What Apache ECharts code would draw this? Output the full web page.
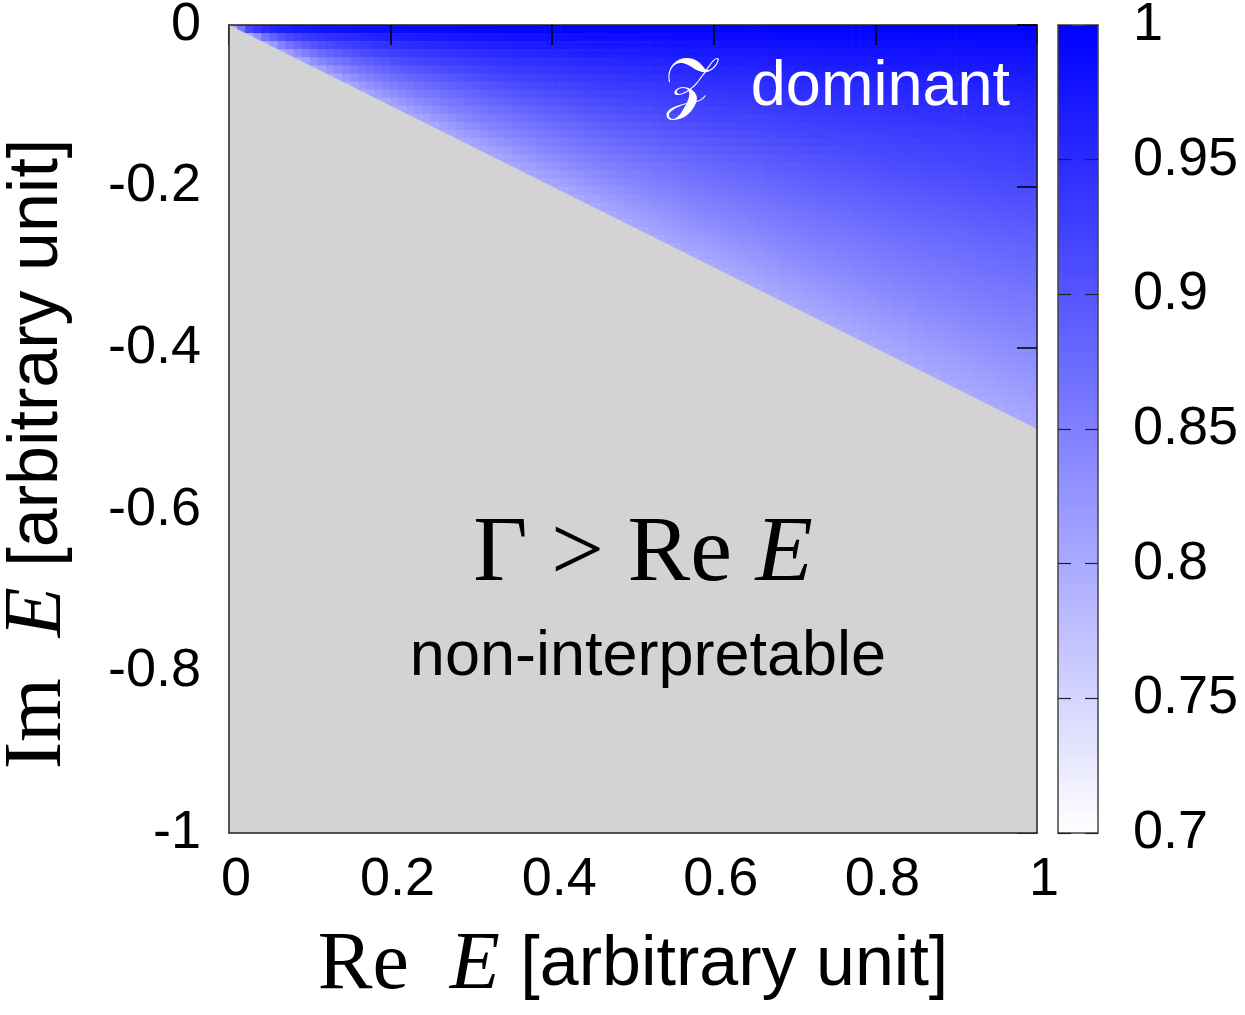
<!DOCTYPE html>
<html lang="en">
<head>
  <meta charset="UTF-8">
  <title>Re E / Im E</title>
  <script src="https://cdn.jsdelivr.net/npm/echarts@6/dist/echarts.min.js"></script>
</head>
<body style="margin:0;background:#fff;">
  <div id="main" style="width:1245px;height:1015px;"></div>
  <script type="text/javascript">
    // boundary Gamma = Re E, i.e. Im E = -Re E / 2
    var boundaryRe = [0, 1];
    var boundaryIm = [0, -0.5];

    var ratioStops  = [0, 0.1, 0.2, 0.3, 0.4, 0.5, 0.6, 0.7, 0.8, 0.9, 1];
    var ratioLevels = [1, 0.975, 0.952, 0.933, 0.915, 0.895, 0.876, 0.858, 0.84, 0.82, 0.8];

    // colour bar range
    var levelMin = 0.7, levelMax = 1, levelStep = 0.05;

    // pm3d cell size
    var dRe = 0.01, dIm = 0.01;

    function levelAt(r) {
      if (r <= 0) return ratioLevels[0];
      for (var i = 1; i < ratioStops.length; i++) {
        if (r <= ratioStops[i]) {
          var t = (r - ratioStops[i - 1]) / (ratioStops[i] - ratioStops[i - 1]);
          return ratioLevels[i - 1] + t * (ratioLevels[i] - ratioLevels[i - 1]);
        }
      }
      return ratioLevels[ratioLevels.length - 1];
    }

    // only cells touching the Gamma < Re E region, the rest is covered grey
    var cells = [];
    for (var i = 0; i < Math.round(1 / dRe); i++) {
      for (var j = 0; j < Math.round(0.5 / dIm) + 1; j++) {
        var top = -j * dIm;
        if (top <= -(i + 1) * dRe / 2 - 1e-9) continue;
        var cx = (i + 0.5) * dRe, cy = -(j + 0.5) * dIm;
        var r = Math.min(1, -2 * cy / cx);
        cells.push([cx, cy, levelAt(r)]);
      }
    }

    var sans = 'Liberation Sans, Helvetica, Arial, sans-serif';
    var serif = 'Liberation Serif, Times New Roman, serif';
    var nameRich = {
      s: { fontFamily: serif, fontSize: 82, color: '#000' },
      i: { fontFamily: serif, fontStyle: 'italic', fontSize: 82, color: '#000' },
      a: { fontFamily: sans, fontSize: 70, color: '#000' }
    };
    var edge = { show: true, onZero: false, lineStyle: { color: '#222', width: 1.5 } };
    var barEdge = { show: true, onZero: false, lineStyle: { color: '#444', width: 1.5 } };
    var noLine = { show: false, onZero: false };
    var barTick = { show: true, inside: true, length: 13, lineStyle: { color: '#222', width: 1.2 } };

    var myChart = echarts.init(document.getElementById('main'), null, { renderer: 'canvas' });
    var option = {
      animation: false,
      backgroundColor: '#ffffff',
      grid: [
        { left: 229, top: 25, width: 808, height: 808, outerBoundsMode: 'none', containLabel: false,
          show: true, backgroundColor: '#d3d3d3', borderWidth: 0 },
        { left: 1058, top: 25, width: 40, height: 808, outerBoundsMode: 'none', containLabel: false }
      ],
      xAxis: [
        {
          type: 'value', gridIndex: 0, position: 'bottom', min: 0, max: 1, interval: 0.2, z: 6,
          axisLine: edge, axisTick: { show: false }, splitLine: { show: false },
          axisLabel: { fontSize: 54, color: '#000', fontFamily: sans, margin: 20, padding: [0, 0, 0, 14] },
          name: '{s|Re  }{i|E }{a|[arbitrary unit]}', nameLocation: 'middle', nameGap: 92,
          nameTextStyle: { rich: nameRich }
        },
        {
          type: 'value', gridIndex: 0, position: 'top', min: 0, max: 1, interval: 0.2, z: 3,
          axisLine: edge, axisTick: { show: true, inside: true, length: 20, lineStyle: { color: '#000', width: 1.5 } },
          axisLabel: { show: false }, splitLine: { show: false }
        },
        {
          type: 'value', gridIndex: 1, position: 'bottom', min: 0, max: 1, z: 10,
          axisLine: barEdge, axisTick: { show: false }, axisLabel: { show: false }, splitLine: { show: false }
        },
        {
          type: 'value', gridIndex: 1, position: 'top', min: 0, max: 1, z: 10,
          axisLine: barEdge, axisTick: { show: false }, axisLabel: { show: false }, splitLine: { show: false }
        }
      ],
      yAxis: [
        {
          type: 'value', gridIndex: 0, position: 'left', min: -1, max: 0, interval: 0.2, z: 6,
          axisLine: edge, axisTick: { show: false }, splitLine: { show: false },
          axisLabel: { fontSize: 54, color: '#000', fontFamily: sans, margin: 28 },
          name: '{s|Im  }{i|E }{a|[arbitrary unit]}', nameLocation: 'middle', nameGap: 150, nameRotate: 90,
          nameTextStyle: { rich: nameRich, padding: [0, 50, 0, 0] }
        },
        {
          type: 'value', gridIndex: 0, position: 'right', min: -1, max: 0, interval: 0.2, z: 6,
          axisLine: edge, axisTick: { show: false }, axisLabel: { show: false }, splitLine: { show: false }
        },
        {
          type: 'value', gridIndex: 0, position: 'right', min: -1, max: 0, interval: 0.2, z: 3,
          axisLine: noLine,
          axisTick: { show: true, inside: true, length: 20, lineStyle: { color: '#000', width: 1.5 } },
          axisLabel: { show: false }, splitLine: { show: false }
        },
        {
          type: 'value', gridIndex: 1, position: 'right', min: levelMin, max: levelMax, interval: levelStep, z: 10,
          axisLine: barEdge, axisTick: barTick,
          axisLabel: { fontSize: 54, color: '#000', fontFamily: sans, margin: 35 },
          splitLine: { show: false }
        },
        {
          type: 'value', gridIndex: 1, position: 'left', min: levelMin, max: levelMax, interval: levelStep, z: 10,
          axisLine: barEdge, axisTick: barTick,
          axisLabel: { show: false }, splitLine: { show: false }
        }
      ],
      visualMap: {
        type: 'continuous', min: levelMin, max: levelMax, seriesIndex: 0, dimension: 2,
        calculable: false, realtime: false, hoverLink: false,
        left: 1058, top: 25, itemWidth: 40, itemHeight: 808, padding: 0, z: 1,
        inRange: { color: ['#ffffff', '#0000ff'] },
        textStyle: { color: 'transparent', fontSize: 1 }
      },
      series: [
        {
          type: 'custom', xAxisIndex: 0, yAxisIndex: 0, z: 2, silent: true, clip: true,
          data: cells,
          encode: { x: 0, y: 1 },
          renderItem: function (params, api) {
            var p = api.coord([api.value(0) - dRe / 2, api.value(1) + dIm / 2]);
            var s = api.size([dRe, dIm]);
            return {
              type: 'rect',
              shape: { x: p[0], y: p[1], width: s[0] + 0.6, height: s[1] + 0.6 },
              style: { fill: api.visual('color') }
            };
          }
        },
        {
          // grey non-interpretable region below Gamma = Re E
          type: 'line', xAxisIndex: 0, yAxisIndex: 0, z: 4, silent: true,
          data: boundaryRe.map(function (x, k) { return [x, boundaryIm[k]]; }),
          showSymbol: false, lineStyle: { width: 0 },
          areaStyle: { color: '#d3d3d3', opacity: 1, origin: 'start' }
        }
      ],
      graphic: [
        {
          type: 'text', x: 1010, y: 88, z: 20,
          style: {
            text: '{z|𝒵}  dominant', align: 'right', verticalAlign: 'middle',
            fill: '#fff', font: '63px ' + sans,
            rich: { z: { fontFamily: 'DejaVu Serif, serif', fontSize: 68, color: '#fff' } }
          }
        },
        {
          type: 'text', x: 643, y: 555, z: 20,
          style: {
            text: '{r|Γ > Re }{i|E}', align: 'center', verticalAlign: 'middle', fill: '#000',
            rich: {
              r: { fontFamily: serif, fontSize: 94, color: '#000' },
              i: { fontFamily: serif, fontStyle: 'italic', fontSize: 94, color: '#000' }
            }
          }
        },
        {
          type: 'text', x: 648, y: 658, z: 20,
          style: { text: 'non-interpretable', align: 'center', verticalAlign: 'middle', fill: '#000', font: '63px ' + sans }
        }
      ]
    };
    myChart.setOption(option);
  </script>
</body>
</html>
